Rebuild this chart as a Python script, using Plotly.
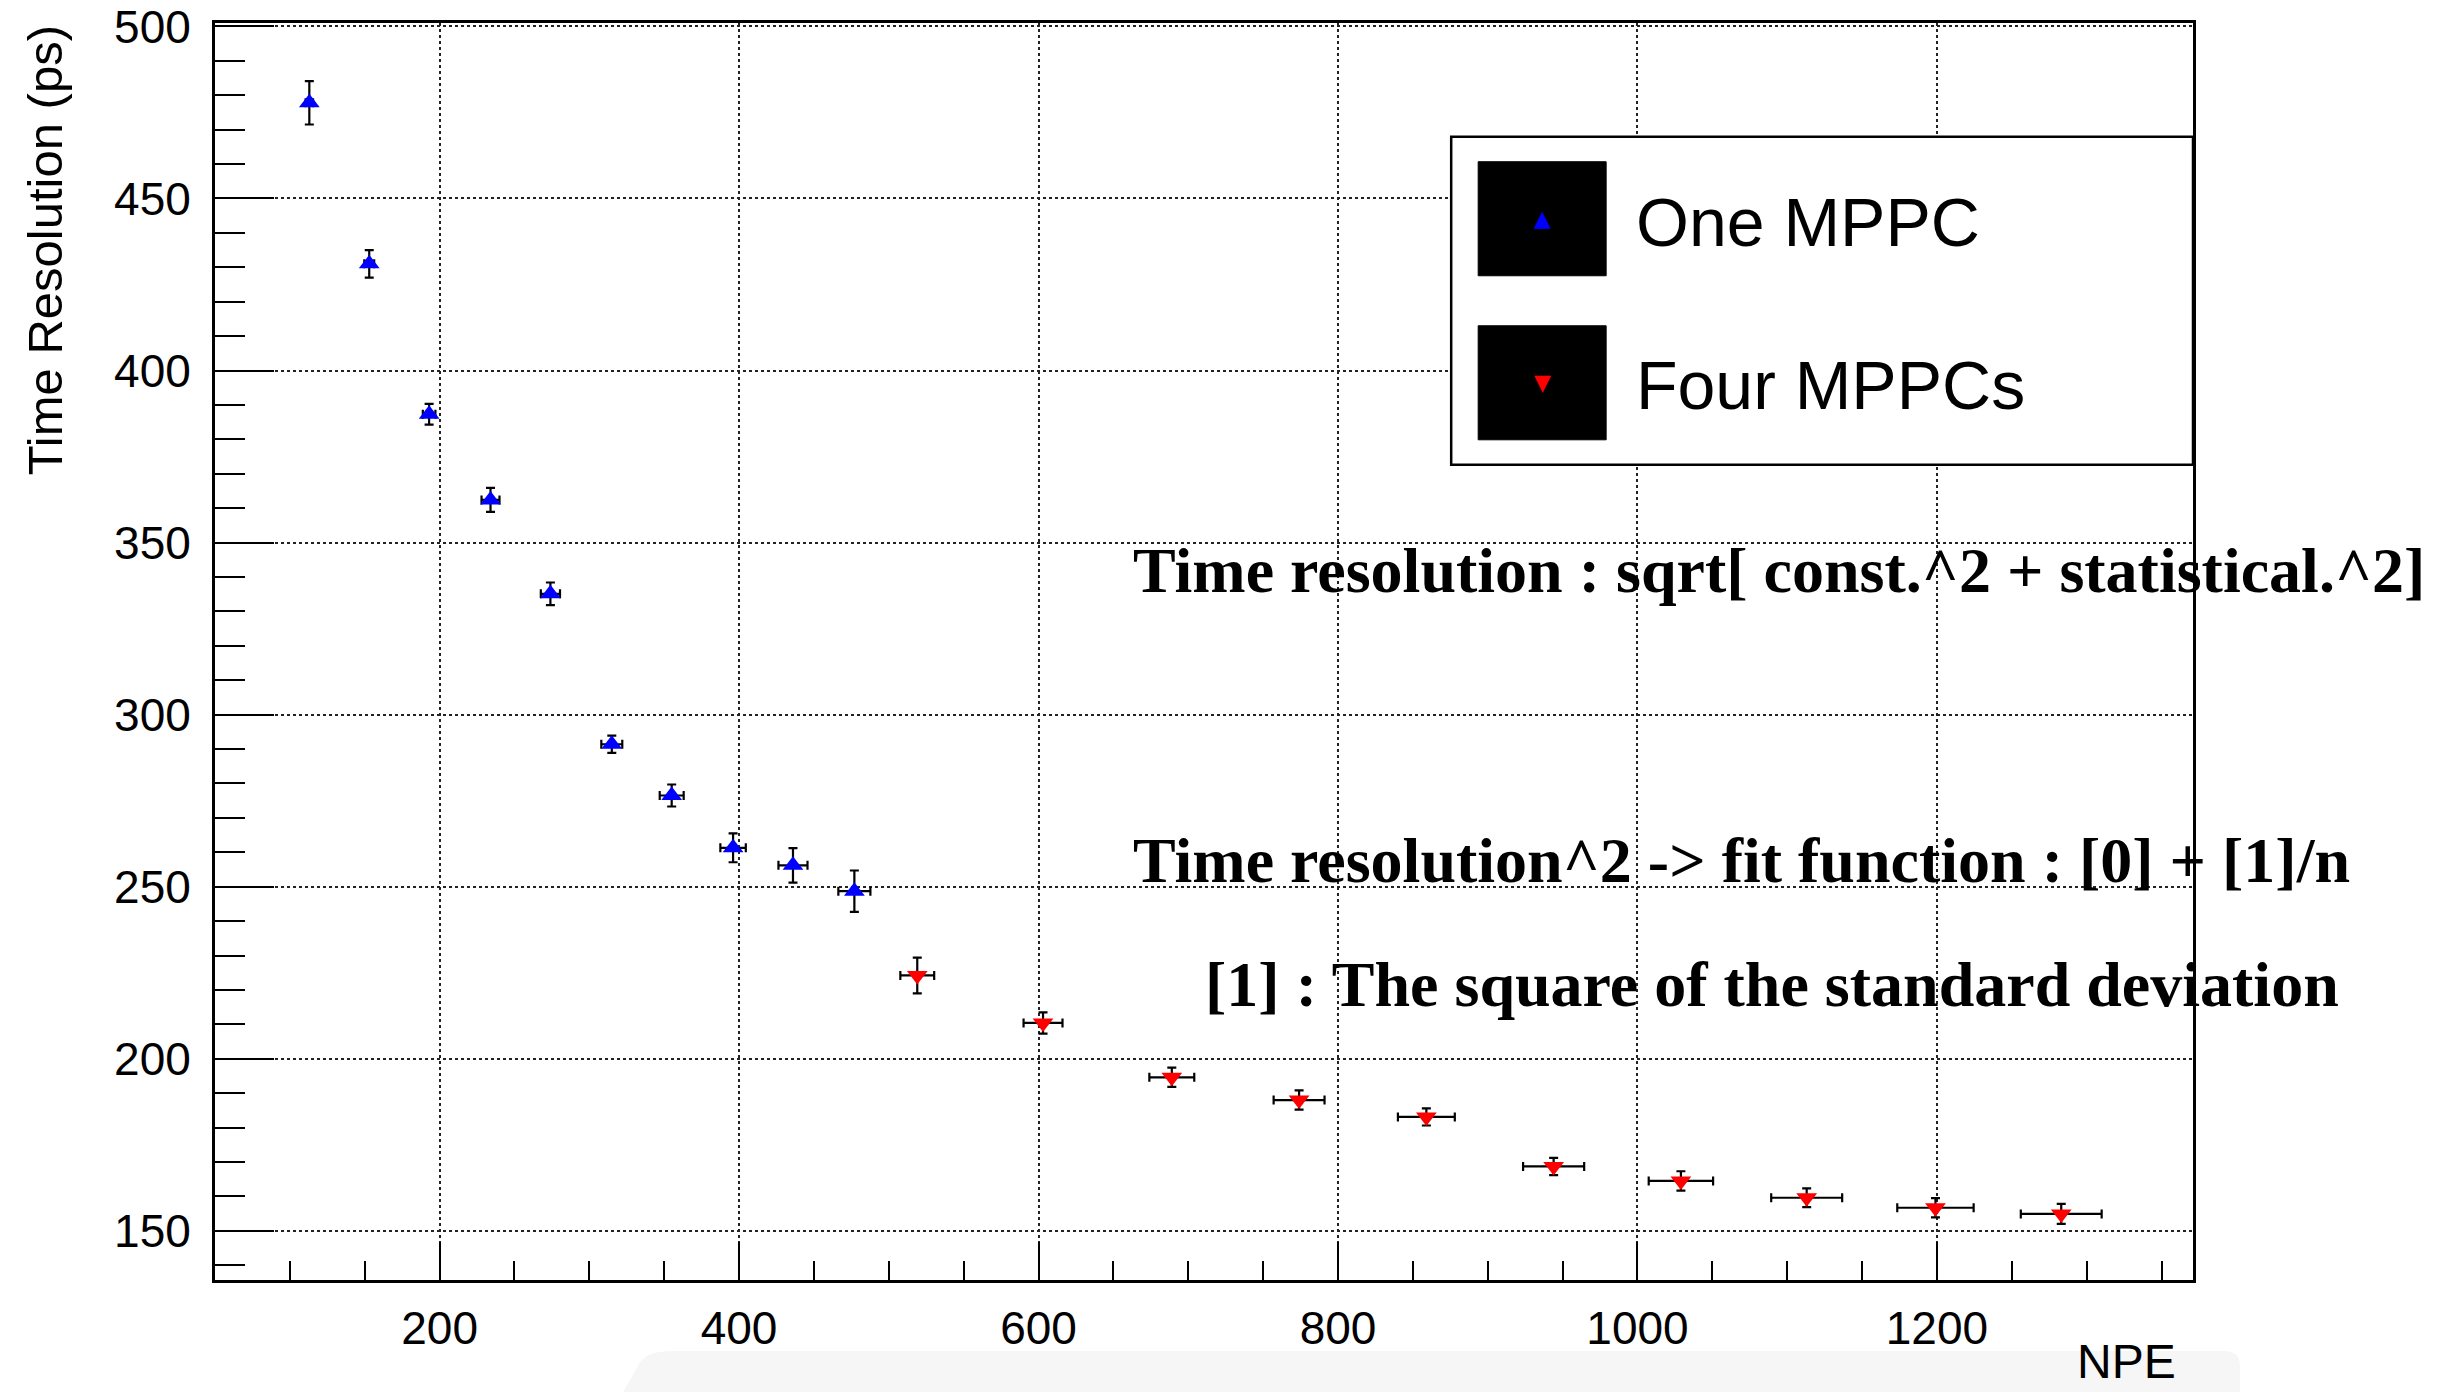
import plotly.graph_objects as go

# ---------------- data ----------------
npe_one = [113, 153, 193, 234, 274, 315, 355, 396, 436, 477]
npe_one_err = [2.5, 3.3, 4.2, 6.0, 6.4, 7.0, 8.0, 8.5, 9.7, 10.7]
res_one = [477.8, 431.0, 387.3, 362.4, 335.1, 291.4, 276.5, 261.3, 256.2, 248.7]
res_one_err = [6.3, 4.0, 3.0, 3.5, 3.3, 2.5, 3.2, 4.2, 5.0, 6.0]

npe_four = [519, 603, 689, 774, 859, 944, 1029, 1113, 1199, 1283]
npe_four_err = [11.3, 13.0, 15.0, 17.0, 19.0, 20.4, 21.5, 23.7, 25.5, 27.0]
res_four = [224.2, 210.4, 194.6, 188.0, 183.1, 168.7, 164.5, 159.6, 156.7, 154.9]
res_four_err = [5.2, 3.1, 2.8, 2.8, 2.5, 2.5, 2.8, 2.7, 2.8, 2.9]

series_names = ["One MPPC", "Four MPPCs"]
x_title = "NPE"
y_title = "Time Resolution (ps)"
notes = [
    "Time resolution : sqrt[ const.^2 + statistical.^2]",
    "Time resolution^2 -> fit function : [0] + [1]/n",
    "[1] : The square of the standard deviation",
]

# ---------------- geometry ----------------
# page body has an 8px margin: the figure starts at (8, 8) of the window
OFF = 8
WIN_W, WIN_H = 2447, 1392
W, H = WIN_W - OFF, WIN_H - OFF
# plot area in window pixels
L_ABS, R_ABS, T_ABS, B_ABS = 214.5, 2193, 23.3, 1280
L, R, T, B = L_ABS - OFF, R_ABS - OFF, T_ABS - OFF, B_ABS - OFF


def px(x_abs):
    return (x_abs - L_ABS) / (R_ABS - L_ABS)


def py(y_abs):
    return (B_ABS - y_abs) / (B_ABS - T_ABS)


SANS = "Liberation Sans, Arial, Helvetica, sans-serif"
SERIF = "Liberation Serif, Times New Roman, serif"

fig = go.Figure()

fig.add_trace(go.Scatter(
    x=npe_one, y=res_one, mode="markers", name=series_names[0], showlegend=False,
    marker=dict(symbol="triangle-up", size=18, color="#0000ff"),
    error_y=dict(type="data", array=res_one_err, color="black", thickness=2.2, width=4.5),
    error_x=dict(type="data", array=npe_one_err, color="black", thickness=2.2, width=4.5),
))
fig.add_trace(go.Scatter(
    x=npe_four, y=res_four, mode="markers", name=series_names[1], showlegend=False,
    marker=dict(symbol="triangle-down", size=18, color="#ff0000"),
    error_y=dict(type="data", array=res_four_err, color="black", thickness=2.2, width=4.5),
    error_x=dict(type="data", array=npe_four_err, color="black", thickness=2.2, width=4.5),
))

shapes = []
annotations = []

# faint grey band at the bottom (screenshot artefact)
shapes.append(dict(
    type="path", xref="paper", yref="paper", layer="below",
    path=(f"M {px(618)} {py(1400)} L {px(640)} {py(1362)} Q {px(648)} {py(1351)} {px(672)} {py(1351)} "
          f"L {px(2224)} {py(1351)} Q {px(2240)} {py(1351)} {px(2240)} {py(1366)} L {px(2240)} {py(1400)} Z"),
    fillcolor="#f6f6f6", line=dict(width=0),
))

# legend box
shapes.append(dict(type="rect", xref="paper", yref="paper", layer="above",
                   x0=px(1451), x1=px(2193), y0=py(465), y1=py(137),
                   fillcolor="white", line=dict(color="black", width=2.5)))
for (y0, y1) in [(162, 276), (326, 440)]:
    shapes.append(dict(type="rect", xref="paper", yref="paper", layer="above",
                       x0=px(1478), x1=px(1606), y0=py(y1), y1=py(y0),
                       fillcolor="black", line=dict(color="black", width=1)))

annotations.append(dict(xref="paper", yref="paper", x=px(1542), y=py(219), text="▲",
                        showarrow=False, font=dict(family="DejaVu Sans", size=22, color="#0000ff"),
                        xanchor="center", yanchor="middle"))
annotations.append(dict(xref="paper", yref="paper", x=px(1542), y=py(383), text="▼",
                        showarrow=False, font=dict(family="DejaVu Sans", size=22, color="#ff0000"),
                        xanchor="center", yanchor="middle"))
annotations.append(dict(xref="paper", yref="paper", x=px(1634), y=py(222), text=series_names[0],
                        showarrow=False, font=dict(family=SANS, size=68, color="black"),
                        xanchor="left", yanchor="middle"))
annotations.append(dict(xref="paper", yref="paper", x=px(1634), y=py(385), text=series_names[1],
                        showarrow=False, font=dict(family=SANS, size=68, color="black"),
                        xanchor="left", yanchor="middle"))

# text notes
for text, xl, yc in zip(notes, [1131, 1131, 1203], [571, 861, 985]):
    annotations.append(dict(xref="paper", yref="paper", x=px(xl), y=py(yc),
                            text=f"<b>{text}</b>", showarrow=False,
                            font=dict(family=SERIF, size=64, color="black"),
                            xanchor="left", yanchor="middle"))

# axis titles
annotations.append(dict(xref="paper", yref="paper", x=px(44), y=py(24), text=y_title,
                        textangle=-90, showarrow=False,
                        font=dict(family=SANS, size=49, color="black"),
                        xanchor="center", yanchor="top"))
annotations.append(dict(xref="paper", yref="paper", x=px(2178), y=py(1390), text=x_title,
                        showarrow=False, font=dict(family=SANS, size=48, color="black"),
                        xanchor="right", yanchor="bottom"))

fig.update_layout(
    width=W, height=H,
    margin=dict(l=L, r=W - R, t=T, b=H - B, pad=0, autoexpand=False),
    paper_bgcolor="white", plot_bgcolor="white",
    font=dict(family=SANS, size=46, color="black"),
    showlegend=False,
    shapes=shapes, annotations=annotations,
)

fig.update_xaxes(
    range=[50, 1371], tick0=0, dtick=200, automargin=False,
    ticks="inside", ticklen=38, tickwidth=2, tickcolor="black",
    minor=dict(dtick=50, tick0=0, ticks="inside", ticklen=19, tickwidth=2, tickcolor="black", showgrid=False),
    showgrid=True, gridcolor="#222", gridwidth=1.5, griddash="dot",
    showline=True, linecolor="black", linewidth=3, mirror=True,
    zeroline=False, tickfont=dict(size=46), ticklabelstandoff=6,
    ticklabeloverflow="allow",
)
fig.update_yaxes(
    range=[135.7, 501], tick0=0, dtick=50, automargin=False,
    ticks="inside", ticklen=59, tickwidth=2, tickcolor="black",
    minor=dict(dtick=10, tick0=0, ticks="inside", ticklen=30, tickwidth=2, tickcolor="black", showgrid=False),
    showgrid=True, gridcolor="#222", gridwidth=1.5, griddash="dot",
    showline=True, linecolor="black", linewidth=3, mirror=True,
    zeroline=False, tickfont=dict(size=46), ticklabelstandoff=12,
    ticklabeloverflow="allow",
)

fig.write_html("out.html")
